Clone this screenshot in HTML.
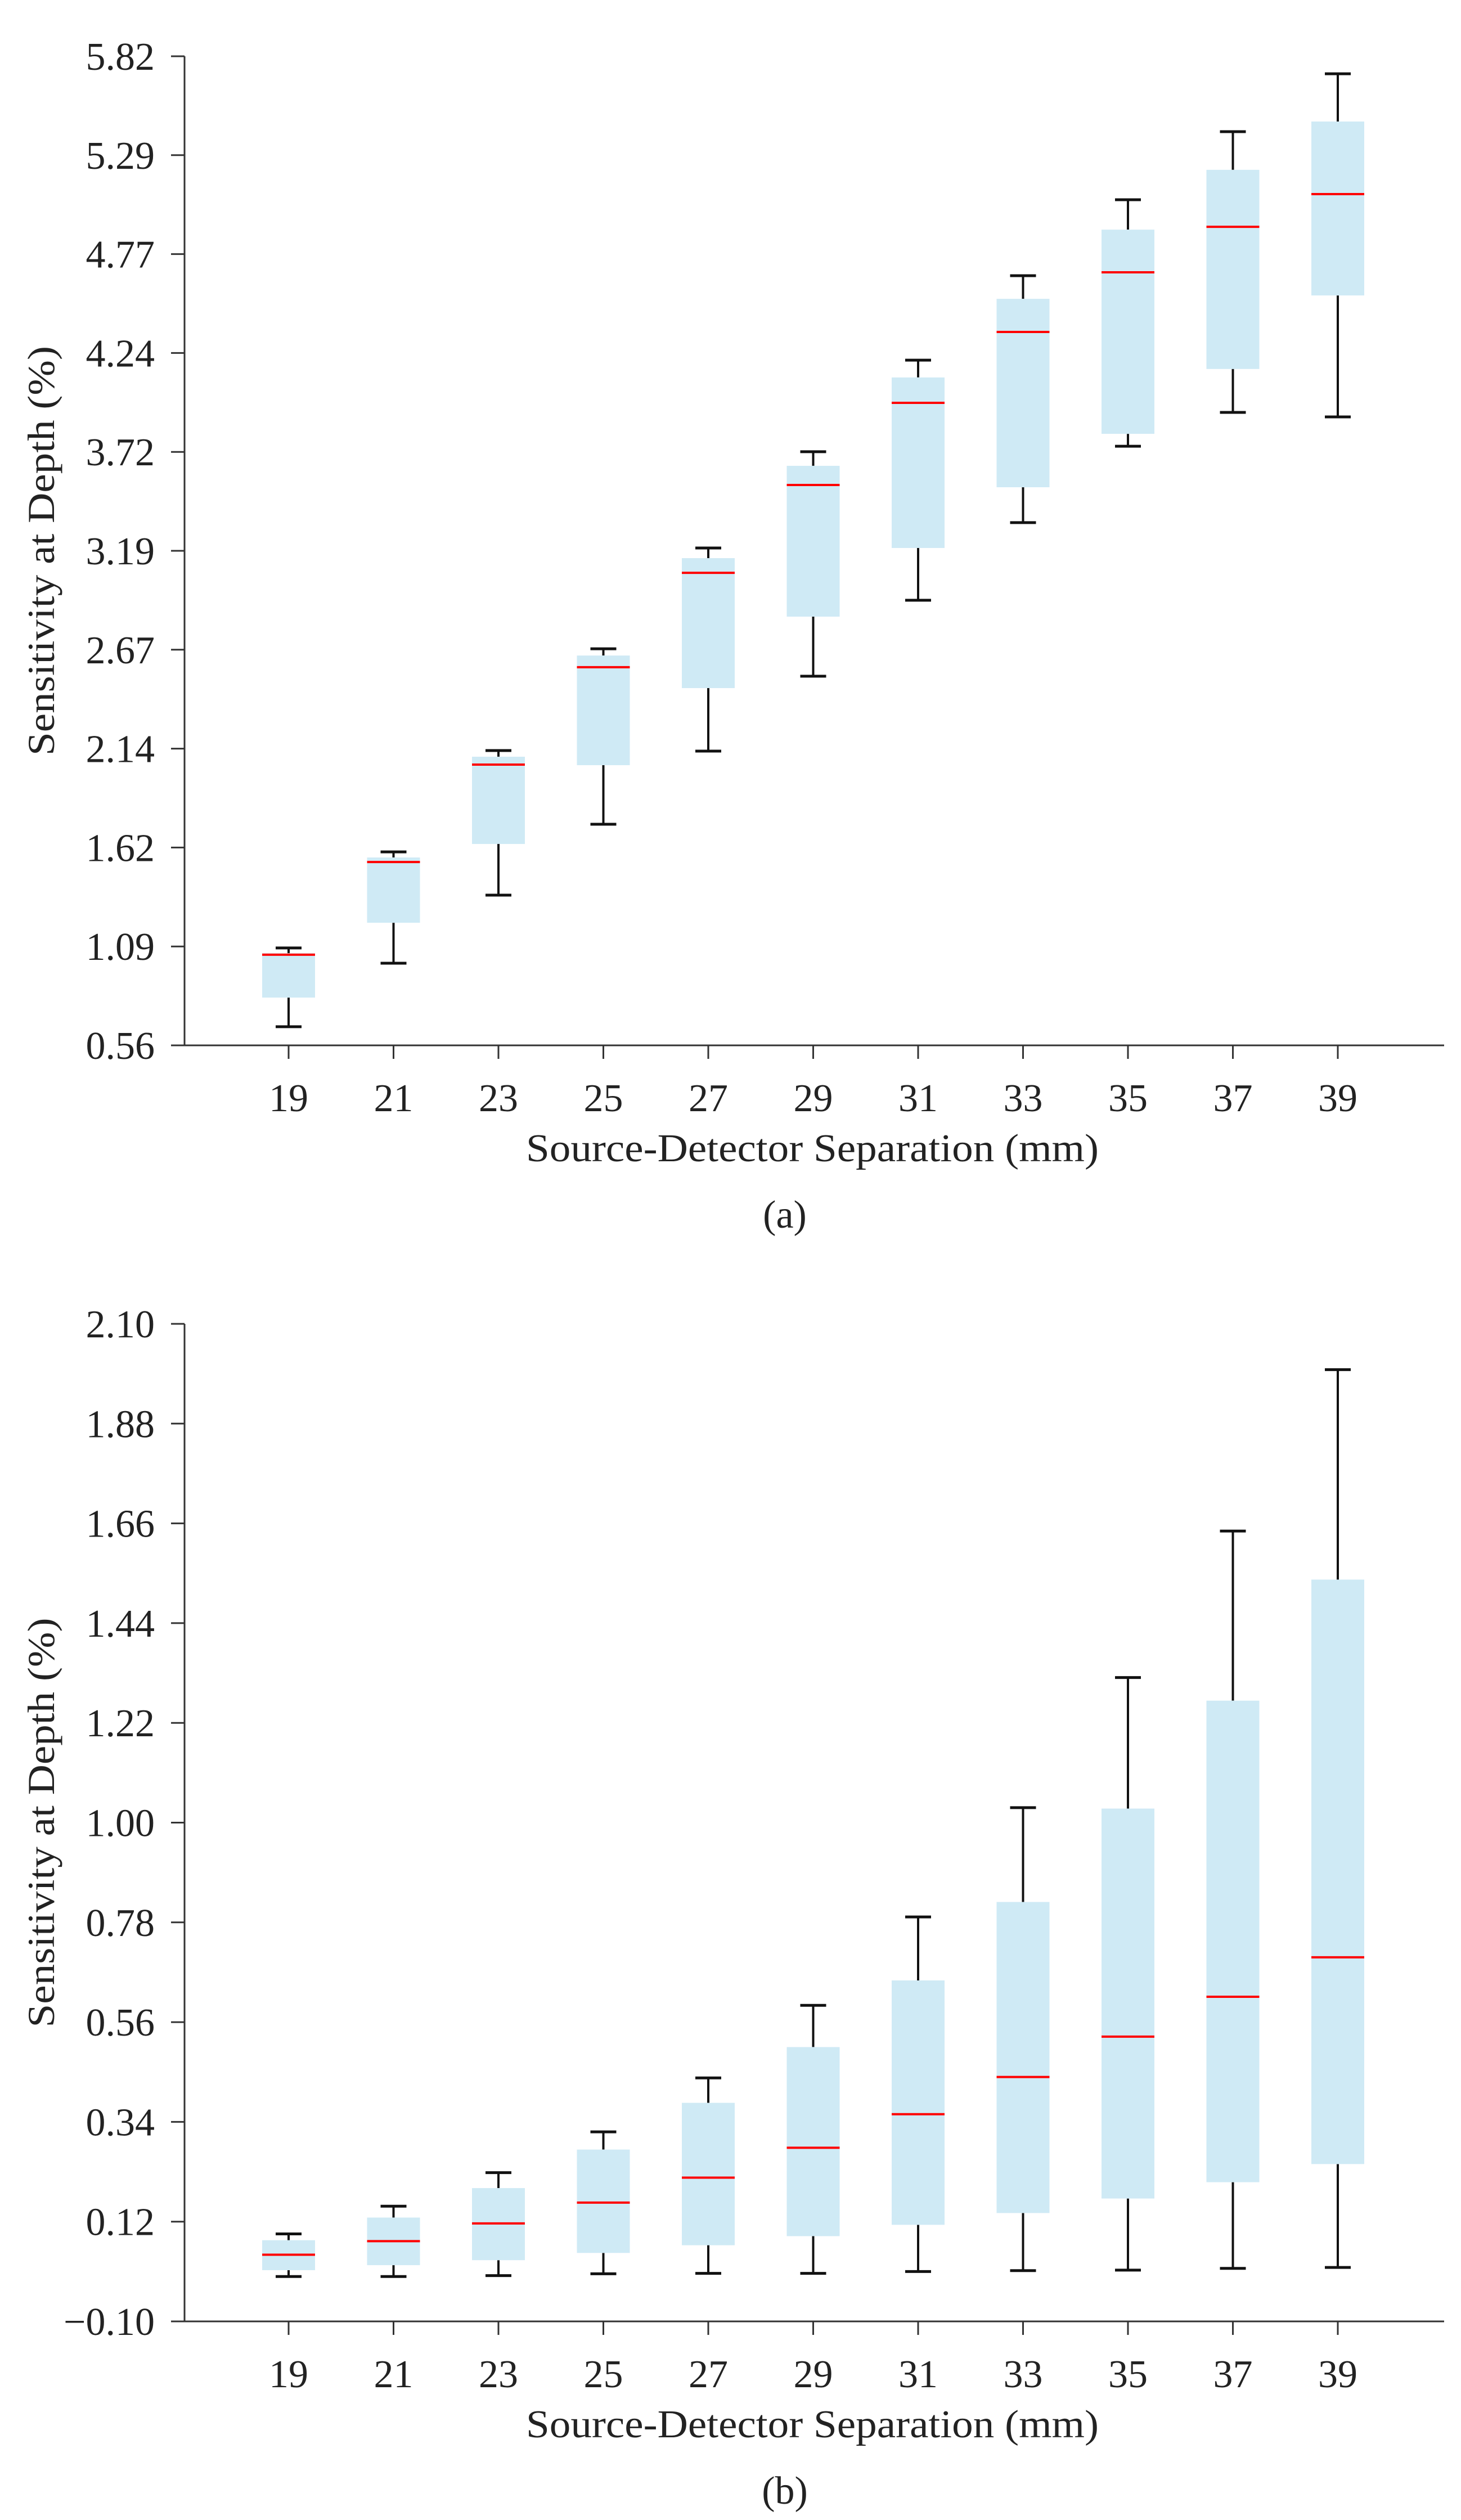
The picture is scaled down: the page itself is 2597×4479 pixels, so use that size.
<!DOCTYPE html>
<html><head><meta charset="utf-8"><style>
html,body{margin:0;padding:0;background:#fff;}
svg{display:block;}
text{font-family:"Liberation Serif",serif;fill:#222;}
</style></head><body>
<svg id="fig" width="2597" height="4479" viewBox="0 0 2597 4479" xmlns="http://www.w3.org/2000/svg"></svg>
<script>
const categories = [19,21,23,25,27,29,31,33,35,37,39];
const aTicks = ["0.56","1.09","1.62","2.14","2.67","3.19","3.72","4.24","4.77","5.29","5.82"];
const aHigh = [1.078,1.589,2.128,2.669,3.205,3.717,4.204,4.653,5.057,5.419,5.727];
const aQ3   = [1.050,1.559,2.095,2.633,3.151,3.642,4.112,4.530,4.898,5.216,5.473];
const aMed  = [1.042,1.535,2.053,2.571,3.073,3.540,3.977,4.354,4.671,4.913,5.087];
const aQ1   = [0.814,1.212,1.631,2.050,2.460,2.840,3.205,3.528,3.812,4.157,4.548];
const aLow  = [0.659,0.997,1.359,1.736,2.125,2.523,2.927,3.340,3.746,3.926,3.902];
const bTicks = ["\u22120.10","0.12","0.34","0.56","0.78","1.00","1.22","1.44","1.66","1.88","2.10"];
const bHigh = [0.093,0.154,0.228,0.318,0.437,0.597,0.792,1.033,1.320,1.643,1.999];
const bQ3   = [0.079,0.129,0.194,0.279,0.382,0.505,0.652,0.825,1.031,1.269,1.536];
const bMed  = [0.047,0.077,0.116,0.162,0.217,0.283,0.357,0.439,0.528,0.616,0.703];
const bQ1   = [0.013,0.024,0.035,0.051,0.068,0.088,0.113,0.139,0.171,0.207,0.247];
const bLow  = [-0.001,-0.001,0.001,0.005,0.006,0.006,0.010,0.012,0.013,0.017,0.019];

const NS="http://www.w3.org/2000/svg";
const svg=document.getElementById('fig');
function mk(tag,attrs,parent){const e=document.createElementNS(NS,tag);for(const k in attrs)e.setAttribute(k,attrs[k]);(parent||svg).appendChild(e);return e;}

function panel(id,top,bottom,ticks,vmin,vmax,hi,q3,med,q1,lo,caption){
  const g=mk('g',{});
  
  
  const axX=328, right=2567, x0=513, dx=186.5;
  const y=v=>bottom-(v-vmin)/(vmax-vmin)*(bottom-top);
  const x=i=>x0+i*dx;
  const yax=mk('line',{x1:axX,y1:top,x2:axX,y2:bottom,stroke:'#333','stroke-width':3},g);
  
  
  const xax=mk('line',{x1:axX,y1:bottom,x2:right,y2:bottom,stroke:'#333','stroke-width':3},g);
  
  
  ticks.forEach((t,i)=>{
    const v=vmin+i*(vmax-vmin)/(ticks.length-1);const yy=y(v);
    mk('line',{x1:axX-24,y1:yy,x2:axX,y2:yy,stroke:'#333','stroke-width':3},g);
    const tx=mk('text',{x:275,y:yy+24,'text-anchor':'end','font-size':70},g);
    tx.textContent=t;
    
    
  });
  categories.forEach((c,i)=>{
    mk('line',{x1:x(i),y1:bottom,x2:x(i),y2:bottom+24,stroke:'#333','stroke-width':3},g);
    const tx=mk('text',{x:x(i),y:bottom+117,'text-anchor':'middle','font-size':70},g);
    tx.textContent=c;
    
    
    const bx=mk('g',{},g);
    
    
    mk('line',{x1:x(i),y1:y(hi[i]),x2:x(i),y2:y(q3[i]),stroke:'#111','stroke-width':4},bx);
    mk('line',{x1:x(i),y1:y(q1[i]),x2:x(i),y2:y(lo[i]),stroke:'#111','stroke-width':4},bx);
    mk('line',{x1:x(i)-23,y1:y(hi[i]),x2:x(i)+23,y2:y(hi[i]),stroke:'#111','stroke-width':5},bx);
    mk('line',{x1:x(i)-23,y1:y(lo[i]),x2:x(i)+23,y2:y(lo[i]),stroke:'#111','stroke-width':5},bx);
    mk('rect',{x:x(i)-47,y:y(q3[i]),width:94,height:y(q1[i])-y(q3[i]),fill:'#cfeaf5'},bx);
    const m=mk('line',{x1:x(i)-47,y1:y(med[i]),x2:x(i)+47,y2:y(med[i]),stroke:'#ff0000','stroke-width':4},bx);
    
    
  });
  const yt=mk('text',{x:0,y:0,'text-anchor':'middle','font-size':68,textLength:728,lengthAdjust:'spacingAndGlyphs',transform:`translate(96,${(top+bottom)/2}) rotate(-90)`},g);
  yt.textContent='Sensitivity at Depth (%)';
  
  
  const xt=mk('text',{x:1444,y:bottom+206,'text-anchor':'middle','font-size':70,textLength:1018,lengthAdjust:'spacingAndGlyphs'},g);
  xt.textContent='Source-Detector Separation (mm)';
  
  
  const cp=mk('text',{x:1395,y:bottom+324,'text-anchor':'middle','font-size':70},g);
  cp.textContent=caption;
  
  
}
panel('a',100,1858,aTicks,0.56,5.82,aHigh,aQ3,aMed,aQ1,aLow,'(a)');
panel('b',2353,4126,bTicks,-0.10,2.10,bHigh,bQ3,bMed,bQ1,bLow,'(b)');
</script>
</body></html>
